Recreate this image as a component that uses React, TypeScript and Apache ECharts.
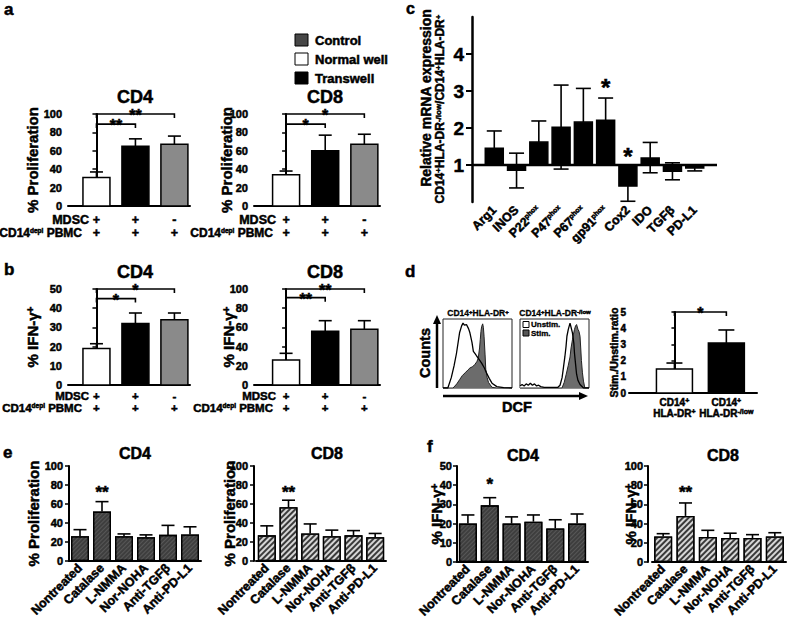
import React, { useEffect, useRef } from 'react';
import * as echarts from 'echarts';

const FONT = "'Liberation Sans', Arial, Helvetica, sans-serif";
const HEAVY = 0.5; // extra outline to mimic the heavy print font

// ---------- panels a / b ----------
const abConditions = ['Normal well', 'Transwell', 'Control'];
const abFills = ['#ffffff', '#000000', '#8a8a8a'];
const mdscRow = ['+', '+', '-'];
const pbmcRow = ['+', '+', '+'];
const aCD4Mean = [31, 65, 67];
const aCD4Upper = [37, 73, 76];
const aCD8Mean = [34, 60, 67];
const aCD8Upper = [38, 77, 78];
const bCD4Mean = [19, 32, 34];
const bCD4Upper = [21.5, 37.5, 37.5];
const bCD8Mean = [26, 56, 58];
const bCD8Upper = [33, 67, 67];
const aCD4Sig: any[] = [[0, 1, 89, '**'], [0, 2, 100, '**']];
const aCD8Sig: any[] = [[0, 1, 89, '*'], [0, 2, 100, '*']];
const bCD4Sig: any[] = [[0, 1, 45, '*'], [0, 2, 50, '*']];
const bCD8Sig: any[] = [[0, 1, 91, '**'], [0, 2, 100, '**']];
const legendNames = ['Control', 'Normal well', 'Transwell'];
const legendFills = ['#474747', '#ffffff', '#000000'];

// ---------- panel c ----------
const cGenes = ['Arg1', 'INOS', 'P22phox', 'P47phox', 'P67phox', 'gp91phox', 'Cox2', 'IDO', 'TGFβ', 'PD-L1'];
const cMean = [1.45, 0.86, 1.62, 2.02, 2.16, 2.21, 0.43, 1.19, 0.83, 0.92];
const cUpper = [1.92, 1.32, 2.19, 3.16, 3.07, 2.81, null, 1.61, 1.06, null];
const cLower = [null, 0.38, null, 0.89, null, null, 0.02, 0.79, 0.6, 0.84];
const cStar = [null, null, null, null, null, 3.19, 1.35, null, null, null];
const cTicks = [1, 2, 3, 4];

// ---------- panel d ----------
const dRatioMean = [1.48, 3.09];
const dRatioUpper = [1.85, 3.89];
const dFills = ['#ffffff', '#000000'];
const dSig: any[] = [[0, 1, 5, '*']];
const dLabelTop = ['CD14{s|+}', 'CD14{s|+}'];
const dLabelBottom = ['HLA-DR{s|+}', 'HLA-DR{s|-/low}'];
const hist1Unstim = [[0, 0], [7, 0], [12, 15], [16, 32], [19.5, 50], [24, 80], [27, 90], [29, 94], [31, 91], [34, 92], [37, 86], [39, 80], [42, 66], [44, 53], [47, 49], [49, 46], [52, 42], [56, 36], [60, 29], [63, 22], [67, 14], [71, 7], [78, 2], [88, 0.5], [100, 0]];
const hist1Stim = [[0, 0], [14.6, 0], [20, 6], [24, 12], [28, 18], [32, 22], [36, 26], [39, 29], [43, 31], [46, 34], [49, 38], [51, 43], [53, 58], [54, 70], [55, 82], [56, 89], [57.5, 93], [58.5, 88], [59.5, 75], [61, 48], [62, 27], [64, 15], [66, 8], [71, 1], [78, 0], [100, 0]];
const hist2Unstim = [[0, 3], [3, 5], [6, 3], [9, 6], [12, 4], [15, 7], [18, 4], [21, 6], [24, 3], [27, 4], [30, 2], [35, 1], [45, 1], [55, 1], [58, 4], [61, 15], [63, 30], [65, 45], [66.7, 60], [68, 75], [70, 85], [72.5, 94], [74, 88], [76, 80], [78, 65], [79, 50], [80.5, 35], [82, 20], [84, 11], [87, 5], [92, 0], [100, 0]];
const hist2Stim = [[0, 0], [60.9, 0], [64, 8], [67, 20], [70, 33], [72.5, 45], [74, 58], [76, 70], [77.5, 78], [79, 85], [80.5, 90], [82, 92], [84, 85], [85.5, 82], [87, 75], [88, 58], [89, 40], [90.5, 22], [92, 10], [94, 0], [100, 0]];

// ---------- panels e / f ----------
const treatments = ['Nontreated', 'Catalase', 'L-NMMA', 'Nor-NOHA', 'Anti-TGFβ', 'Anti-PD-L1'];
const eCD4Mean = [26, 52, 26, 25, 27.5, 28];
const eCD4Upper = [33, 62.5, 28.5, 27.5, 37.5, 36];
const eCD8Mean = [27, 56.5, 29, 26, 27, 25];
const eCD8Upper = [37, 64, 39, 32.5, 32, 29];
const fCD4Mean = [20, 29.5, 20, 21, 17.5, 20];
const fCD4Upper = [24.5, 33.5, 23.5, 24.5, 22, 25];
const fCD8Mean = [26.5, 48, 26, 25, 25, 26.5];
const fCD8Upper = [29.5, 61.5, 33, 30, 28.5, 30.5];
const eCD4Star = [null, 76, null, null, null, null];
const eCD8Star = [null, 76, null, null, null, null];
const fCD4Star = [null, 42.5, null, null, null, null];
const fCD8Star = [null, 77, null, null, null, null];
const eStarText = ['', '**', '', '', '', ''];
const fCD4StarText = ['', '*', '', '', '', ''];

// zrender (graphic / custom) text style
const zt = (size: number, extra: any = {}) => ({
  fontSize: size, fontWeight: 'bold', fontFamily: FONT, fill: '#000', stroke: '#000', lineWidth: HEAVY, ...extra,
});
const supRich = (size: number) => ({ s: { ...zt(size), verticalAlign: 'top' } });

function capLine(cx: number, y: number, half: number) {
  return { type: 'line', shape: { x1: cx - half, y1: y, x2: cx + half, y2: y }, style: { stroke: '#000', lineWidth: 1.6 } };
}

function barsSeries(idx: number, cfg: any) {
  const base = cfg.base ?? 0;
  const sh = cfg.xShift ?? 0;
  return {
    type: 'custom',
    xAxisIndex: idx,
    yAxisIndex: idx,
    clip: false,
    z: 3,
    data: cfg.means.map((v: number, i: number) => [i + sh, v]),
    renderItem: (params: any, api: any) => {
      const i = params.dataIndex;
      const x = i + sh;
      const v = cfg.means[i];
      const pv = api.coord([x, v]);
      const pb = api.coord([x, base]);
      const hi = cfg.upper ? cfg.upper[i] : null;
      const lo = cfg.lower ? cfg.lower[i] : null;
      const ph = api.coord([x, hi ?? v]);
      const pl = api.coord([x, lo ?? v]);
      const cx = pv[0];
      const ch: any[] = [];
      if (hi != null || lo != null) {
        ch.push({ type: 'line', shape: { x1: cx, y1: ph[1], x2: cx, y2: pl[1] }, style: { stroke: '#000', lineWidth: 1.6 } });
      }
      if (cfg.drawRect !== false) {
        ch.push({
          type: 'rect',
          shape: { x: cx - cfg.barW / 2, y: Math.min(pv[1], pb[1]), width: cfg.barW, height: Math.abs(pv[1] - pb[1]) },
          style: { fill: cfg.fills[i % cfg.fills.length], stroke: '#000', lineWidth: 1.5 },
        });
      }
      if (hi != null) ch.push(capLine(cx, ph[1], cfg.cap));
      if (lo != null) ch.push(capLine(cx, pl[1], cfg.cap));
      if (cfg.rows) {
        for (const r of cfg.rows) {
          ch.push({
            type: 'text', x: cx, y: pb[1] + r.dy,
            style: { text: r.texts[i], ...zt(r.size), align: 'center', verticalAlign: 'middle', rich: supRich(r.sup ?? 7) },
          });
        }
      }
      if (cfg.stars && cfg.stars[i] != null) {
        const ps = api.coord([x, cfg.stars[i]]);
        ch.push({
          type: 'text', x: cx, y: ps[1] + 4,
          style: { text: cfg.starText[i], ...zt(cfg.starSize ?? 18), align: 'center', verticalAlign: 'middle' },
        });
      }
      return { type: 'group', children: ch };
    },
  };
}

function bracketSeries(idx: number, brackets: any[], size: number) {
  return {
    type: 'custom', xAxisIndex: idx, yAxisIndex: idx, clip: false, z: 5,
    data: brackets.map((b) => [b[0], b[2]]),
    renderItem: (params: any, api: any) => {
      const [i1, i2, lvl, t] = brackets[params.dataIndex];
      const p1 = api.coord([i1, lvl]);
      const p2 = api.coord([i2, lvl]);
      return {
        type: 'group',
        children: [
          { type: 'polyline', shape: { points: [[p1[0], p1[1] + 4], [p1[0], p1[1]], [p2[0], p2[1]], [p2[0], p2[1] + 4]] }, style: { stroke: '#000', lineWidth: 1.6, fill: null } },
          { type: 'text', x: (p1[0] + p2[0]) / 2, y: p1[1] + 1.5, style: { text: t, ...zt(size), align: 'center', verticalAlign: 'middle' } },
        ],
      };
    },
  };
}

// ECharts label text style
const axisFont = (size: number) => ({
  color: '#000', fontSize: size, fontWeight: 'bold', fontFamily: FONT, textBorderColor: '#000', textBorderWidth: HEAVY,
});

function yAx(grid: number, max: number, interval: number, name: string, nameGap: number, extra: any = {}) {
  return {
    type: 'value', gridIndex: grid, min: 0, max, interval,
    axisLine: { show: true, lineStyle: { color: '#000', width: 2 } },
    axisTick: { show: true, length: 4, lineStyle: { color: '#000', width: 1.5 } },
    axisLabel: { ...axisFont(11), margin: 6 },
    splitLine: { show: false },
    name, nameLocation: 'middle', nameGap, nameRotate: 90, nameMoveOverlap: false,
    nameTextStyle: { ...axisFont(15), rich: { s: { ...axisFont(10), verticalAlign: 'top' } } },
    ...extra,
  };
}

function xVal(grid: number, min: number, max: number) {
  return {
    type: 'value', gridIndex: grid, min, max,
    axisLine: { show: true, onZero: false, lineStyle: { color: '#000', width: 2 } },
    axisTick: { show: false }, axisLabel: { show: false }, splitLine: { show: false },
  };
}

function xCat(grid: number) {
  return {
    type: 'category', gridIndex: grid, data: treatments,
    axisLine: { show: true, onZero: false, lineStyle: { color: '#000', width: 2 } },
    axisTick: { show: false },
    axisLabel: { ...axisFont(12.5), interval: 0, rotate: 45, margin: 5 },
    splitLine: { show: false },
  };
}

const hiddenVal = (grid: number) => ({ type: 'value', gridIndex: grid, min: 0, max: 100, show: false, splitLine: { show: false } });

function gText(x: number, y: number, text: string, size: number, extra: any = {}, rot = 0) {
  return {
    type: 'text', x, y, rotation: rot,
    style: { text, ...zt(size), align: 'center', verticalAlign: 'middle', ...extra },
  };
}

function buildOption() {
  const grid = [
    { left: 68, top: 114, width: 122, height: 92 },
    { left: 254, top: 114, width: 126, height: 92 },
    { left: 68, top: 289, width: 122, height: 96 },
    { left: 254, top: 289, width: 126, height: 96 },
    { left: 472, top: 17, width: 245, height: 185 },
    { left: 443, top: 319, width: 69, height: 69, show: true, borderColor: '#222', borderWidth: 1, backgroundColor: '#fff' },
    { left: 520, top: 319, width: 69, height: 69, show: true, borderColor: '#222', borderWidth: 1, backgroundColor: '#fff' },
    { left: 629, top: 312, width: 128, height: 81 },
    { left: 69, top: 466, width: 132, height: 95 },
    { left: 256, top: 466, width: 130, height: 95 },
    { left: 457, top: 466, width: 131, height: 96 },
    { left: 652, top: 466, width: 134, height: 96 },
  ].map((g) => ({ ...g, containLabel: false, outerBoundsMode: 'none' }));

  const cCats = ['', ...cGenes, ''];

  const xAxis: any[] = [
    xVal(0, -0.73, 2.4),
    xVal(1, -0.82, 2.4),
    xVal(2, -0.73, 2.4),
    xVal(3, -0.82, 2.4),
    {
      type: 'category', gridIndex: 4, data: cCats, boundaryGap: false,
      axisLine: { show: false }, axisTick: { show: false }, splitLine: { show: false },
      axisLabel: {
        ...axisFont(12.5), interval: 0, rotate: 45, margin: 6,
        formatter: (v: string) => (v.endsWith('phox') ? v.replace('phox', '{s|phox}') : v),
        rich: { s: { ...axisFont(7), verticalAlign: 'top' } },
      },
    },
    hiddenVal(5),
    hiddenVal(6),
    xVal(7, -0.875, 1.59),
    xCat(8),
    xCat(9),
    xCat(10),
    xCat(11),
  ];

  const yAxis: any[] = [
    yAx(0, 100, 20, '% Proliferation', 28),
    yAx(1, 100, 20, '% Proliferation', 20),
    yAx(2, 50, 10, '% IFN-γ{s|+}', 28),
    yAx(3, 100, 20, '% IFN-γ{s|+}', 18),
    {
      type: 'value', gridIndex: 4, min: 0, max: 5, interval: 1,
      axisLine: { show: true, lineStyle: { color: '#000', width: 2.5 } },
      axisTick: { show: true, length: 6, customValues: cTicks, lineStyle: { color: '#000', width: 2 } },
      axisLabel: { ...axisFont(19), margin: 8, customValues: cTicks },
      splitLine: { show: false },
    },
    hiddenVal(5),
    hiddenVal(6),
    {
      ...yAx(7, 5, 1, 'Stim./Unstim.ratio', 10),
      axisLabel: { ...axisFont(10), margin: 3 },
      axisTick: { show: true, length: 3, lineStyle: { color: '#000', width: 1.5 } },
      nameTextStyle: axisFont(10.5),
    },
    yAx(8, 100, 20, '% Proliferation', 28),
    yAx(9, 100, 20, '% Proliferation', 17, { offset: 2 }),
    yAx(10, 50, 10, '% IFN-γ{s|+}', 13, { axisLabel: { ...axisFont(11), margin: 5 } }),
    yAx(11, 100, 20, '% IFN-γ{s|+}', 10, { offset: 4, axisLabel: { ...axisFont(11), margin: 5 } }),
  ];

  const abRowsA = [
    { dy: 14, texts: mdscRow, size: 12.5 },
    { dy: 27, texts: pbmcRow, size: 12.5 },
  ];
  const abRowsB = [
    { dy: 11, texts: mdscRow, size: 11.5 },
    { dy: 23, texts: pbmcRow, size: 11.5 },
  ];

  const darkHatch = {
    color: '#3e3e3e', borderColor: '#000', borderWidth: 1.3,
    decal: { symbol: 'rect', symbolSize: 1, color: 'rgba(255,255,255,0.13)', dashArrayX: [1, 0], dashArrayY: [1, 2], rotation: -Math.PI / 4 },
  };
  const lightHatch = {
    color: '#d6d6d6', borderColor: '#000', borderWidth: 1.3,
    decal: { symbol: 'rect', symbolSize: 1, color: '#3a3a3a', dashArrayX: [1, 0], dashArrayY: [1.5, 1.5], rotation: -Math.PI / 4 },
  };

  const efBar = (idx: number, data: number[], style: any) => ({
    type: 'bar', xAxisIndex: idx, yAxisIndex: idx, data, barWidth: 18, itemStyle: style, z: 2, silent: true,
  });

  const series: any[] = [
    barsSeries(0, { means: aCD4Mean, upper: aCD4Upper, fills: abFills, barW: 27, cap: 6.5, rows: abRowsA }),
    bracketSeries(0, aCD4Sig, 16),
    barsSeries(1, { means: aCD8Mean, upper: aCD8Upper, fills: abFills, barW: 27, cap: 6.5, rows: abRowsA }),
    bracketSeries(1, aCD8Sig, 16),
    barsSeries(2, { means: bCD4Mean, upper: bCD4Upper, fills: abFills, barW: 27, cap: 6.5, rows: abRowsB }),
    bracketSeries(2, bCD4Sig, 16),
    barsSeries(3, { means: bCD8Mean, upper: bCD8Upper, fills: abFills, barW: 27, cap: 6.5, rows: abRowsB }),
    bracketSeries(3, bCD8Sig, 16),
    barsSeries(4, { means: cMean, upper: cUpper, lower: cLower, fills: ['#000000'], barW: 18, cap: 7.5, base: 1, xShift: 1, stars: cStar, starText: cMean.map(() => '*'), starSize: 24 }),
    {
      type: 'custom', xAxisIndex: 4, yAxisIndex: 4, clip: false, z: 4, data: [[0, 1]],
      renderItem: (_p: any, api: any) => {
        const a = api.coord([0, 1]);
        const b = api.coord([cCats.length - 1, 1]);
        return { type: 'line', shape: { x1: a[0], y1: a[1], x2: b[0], y2: b[1] }, style: { stroke: '#000', lineWidth: 2.5 } };
      },
    },
    { type: 'line', xAxisIndex: 5, yAxisIndex: 5, data: hist1Unstim, symbol: 'none', lineStyle: { width: 0, color: '#fff' }, areaStyle: { color: '#fff', opacity: 1 }, z: 2, silent: true },
    { type: 'line', xAxisIndex: 5, yAxisIndex: 5, data: hist1Stim, symbol: 'none', lineStyle: { width: 1, color: '#222' }, areaStyle: { color: '#6c6c6c', opacity: 1 }, z: 3, silent: true },
    { type: 'line', xAxisIndex: 5, yAxisIndex: 5, data: hist1Unstim, symbol: 'none', lineStyle: { width: 1.3, color: '#000' }, z: 4, silent: true },
    { type: 'line', xAxisIndex: 6, yAxisIndex: 6, data: hist2Unstim, symbol: 'none', lineStyle: { width: 0, color: '#fff' }, areaStyle: { color: '#fff', opacity: 1 }, z: 2, silent: true },
    { type: 'line', xAxisIndex: 6, yAxisIndex: 6, data: hist2Stim, symbol: 'none', lineStyle: { width: 1, color: '#222' }, areaStyle: { color: '#6c6c6c', opacity: 1 }, z: 3, silent: true },
    { type: 'line', xAxisIndex: 6, yAxisIndex: 6, data: hist2Unstim, symbol: 'none', lineStyle: { width: 1.3, color: '#000' }, z: 4, silent: true },
    barsSeries(7, {
      means: dRatioMean, upper: dRatioUpper, fills: dFills, barW: 36, cap: 8,
      rows: [
        { dy: 9, texts: dLabelTop, size: 10, sup: 7 },
        { dy: 20, texts: dLabelBottom, size: 10, sup: 7 },
      ],
    }),
    bracketSeries(7, dSig, 16),
    efBar(8, eCD4Mean, darkHatch),
    barsSeries(8, { means: eCD4Mean, upper: eCD4Upper, barW: 18, cap: 6.5, drawRect: false, stars: eCD4Star, starText: eStarText, starSize: 17 }),
    efBar(9, eCD8Mean, lightHatch),
    barsSeries(9, { means: eCD8Mean, upper: eCD8Upper, barW: 18, cap: 6.5, drawRect: false, stars: eCD8Star, starText: eStarText, starSize: 17 }),
    efBar(10, fCD4Mean, darkHatch),
    barsSeries(10, { means: fCD4Mean, upper: fCD4Upper, barW: 18, cap: 6.5, drawRect: false, stars: fCD4Star, starText: fCD4StarText, starSize: 17 }),
    efBar(11, fCD8Mean, lightHatch),
    barsSeries(11, { means: fCD8Mean, upper: fCD8Upper, barW: 18, cap: 6.5, drawRect: false, stars: fCD8Star, starText: eStarText, starSize: 17 }),
  ];

  const richSmall = (size: number) => ({ s: { ...zt(size), verticalAlign: 'top' } });

  const graphic: any[] = [
    // panel letters
    gText(4, 9.5, 'a', 17, { align: 'left' }),
    gText(4, 269, 'b', 17, { align: 'left' }),
    gText(406, 8.5, 'c', 16, { align: 'left' }),
    gText(405, 271, 'd', 17, { align: 'left' }),
    gText(3, 452, 'e', 17, { align: 'left' }),
    gText(427, 446, 'f', 17, { align: 'left' }),
    // titles
    gText(135, 97, 'CD4', 18),
    gText(325, 97, 'CD8', 18),
    gText(135, 272, 'CD4', 18),
    gText(325, 272, 'CD8', 18),
    gText(135, 453, 'CD4', 16),
    gText(327, 453, 'CD8', 16),
    gText(523, 455, 'CD4', 16),
    gText(723, 455, 'CD8', 16),
    // row headers a/b
    gText(89, 220, 'MDSC', 12.5, { align: 'right' }),
    gText(82, 233, 'CD14{s|depl} PBMC', 12, { align: 'right', rich: richSmall(6.5) }),
    gText(276, 220, 'MDSC', 12.5, { align: 'right' }),
    gText(273, 233, 'CD14{s|depl} PBMC', 12, { align: 'right', rich: richSmall(6.5) }),
    gText(89, 396, 'MDSC', 11.5, { align: 'right' }),
    gText(82, 408, 'CD14{s|depl} PBMC', 11.5, { align: 'right', rich: richSmall(6.5) }),
    gText(276, 396, 'MDSC', 11.5, { align: 'right' }),
    gText(273, 408, 'CD14{s|depl} PBMC', 11.5, { align: 'right', rich: richSmall(6.5) }),
    // panel c y-axis title (two lines)
    gText(426, 98, 'Relative mRNA expression', 14, {}, Math.PI / 2),
    gText(440, 109, 'CD14{s|+}HLA-DR{s|-/low}/CD14{s|+}HLA-DR{s|+}', 12, { rich: richSmall(8) }, Math.PI / 2),
    // panel d histogram decorations
    gText(478, 313, 'CD14{s|+}HLA-DR{s|+}', 8.5, { rich: richSmall(6), lineWidth: 0.3 }),
    gText(555, 313, 'CD14{s|+}HLA-DR{s|-/low}', 8.5, { rich: richSmall(6), lineWidth: 0.3 }),
    gText(425, 353, 'Counts', 14.5, {}, Math.PI / 2),
    gText(517, 407, 'DCF', 14.5),
    { type: 'line', shape: { x1: 437, y1: 388, x2: 437, y2: 322 }, style: { stroke: '#000', lineWidth: 2.5 } },
    { type: 'polygon', shape: { points: [[433, 324], [441, 324], [437, 315]] }, style: { fill: '#000' } },
    { type: 'line', shape: { x1: 443, y1: 396, x2: 581, y2: 396 }, style: { stroke: '#000', lineWidth: 2.5 } },
    { type: 'polygon', shape: { points: [[579, 392], [579, 400], [588, 396]] }, style: { fill: '#000' } },
    { type: 'rect', shape: { x: 523, y: 321.5, width: 6, height: 6 }, style: { fill: '#fff', stroke: '#000', lineWidth: 1 }, z: 100 },
    { type: 'rect', shape: { x: 523, y: 330, width: 6, height: 6 }, style: { fill: '#555', stroke: '#000', lineWidth: 1 }, z: 100 },
    { ...gText(531, 324.5, 'Unstim.', 8, { align: 'left', lineWidth: 0.3 }), z: 100 },
    { ...gText(531, 333, 'Stim.', 8, { align: 'left', lineWidth: 0.3 }), z: 100 },
  ];

  // legend of panel a
  legendNames.forEach((n, i) => {
    graphic.push({ type: 'rect', shape: { x: 295, y: 34 + i * 19, width: 13, height: 12 }, style: { fill: legendFills[i], stroke: '#000', lineWidth: 1 } });
    graphic.push(gText(315, 40 + i * 19, n, 13, { align: 'left' }));
  });

  return {
    animation: false,
    backgroundColor: '#fff',
    textStyle: { fontFamily: FONT },
    grid,
    xAxis,
    yAxis,
    series,
    graphic: { elements: graphic },
  };
}

export default function App() {
  const ref = useRef<HTMLDivElement>(null);
  useEffect(() => {
    const chart = echarts.init(ref.current!, null, { renderer: 'svg' });
    chart.setOption(buildOption() as any);
    return () => chart.dispose();
  }, []);
  return (
    <div
      ref={ref}
      style={{ position: 'absolute', left: 0, top: 0, width: 787, height: 619, background: '#fff' }}
    />
  );
}
